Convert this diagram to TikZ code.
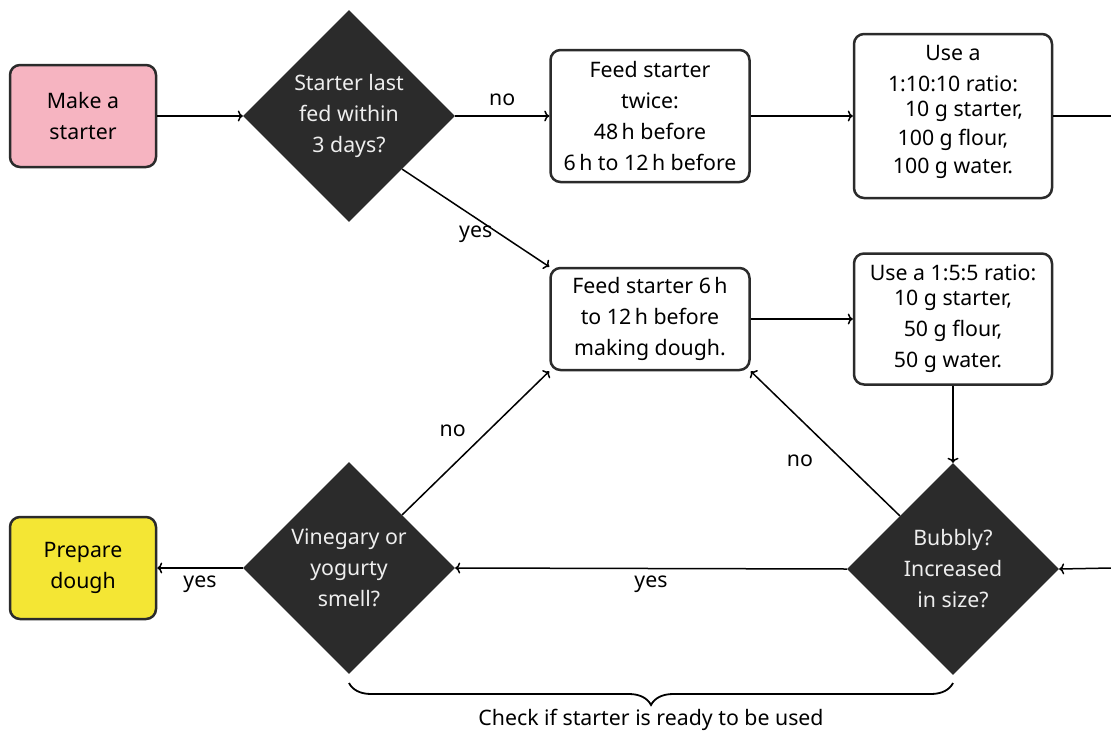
\documentclass[tikz,border=0pt]{standalone}
\usepackage{fontspec}
\setmainfont{Noto Sans}
\usetikzlibrary{shapes.geometric,arrows.meta,decorations.pathreplacing}
\definecolor{dk}{HTML}{2B2B2B}
\definecolor{pinkf}{HTML}{F6B4C1}
\definecolor{yelf}{HTML}{F4E634}
\definecolor{lt}{HTML}{EEEEEE}
\begin{document}
\begin{tikzpicture}[x=1pt,y=-1pt,
  every node/.style={font=\fontsize{21.3}{31}\selectfont},
  box/.style={draw=dk, line width=2.5pt, rounded corners=10pt, align=center, inner sep=0pt, text=black},
  dia/.style={diamond, fill=dk, draw=none, inner sep=0pt, minimum width=212pt, minimum height=212pt, text=lt, align=center},
  conn/.style={line width=1.5pt, draw=black},
  arr/.style={conn, -{To[length=5pt,width=11pt]}},
  lbl/.style={inner sep=0pt, text=black}]
\useasboundingbox (0,0) rectangle (1111,731);

\node[box, fill=pinkf, minimum width=146pt, minimum height=102pt] (mk) at (83,116) {Make a\\starter};
\node[dia] (d1) at (349,116) {Starter last\\fed within\\3 days?};
\node[box, fill=white, minimum width=199pt, minimum height=132pt] (ft) at (650,116) {Feed starter\\twice:\\48\,h before\\6\,h to 12\,h before};
\node[box, fill=white, minimum width=198pt, minimum height=164pt] (u10) at (953,116) {Use a\\1:10:10 ratio:\\[-6pt]\hspace*{22pt}10 g starter,\\[-2pt]100 g flour,\hspace*{20pt}\\[-3pt]100 g water.\hspace*{10pt}\\[-18pt]\mbox{}};
\node[box, fill=white, minimum width=199pt, minimum height=102pt] (f6) at (650,319) {Feed starter 6\,h\\to 12\,h before\\making dough.};
\node[box, fill=white, minimum width=198pt, minimum height=131pt] (u5) at (953,319) {Use a 1:5:5 ratio:\\[-6pt]10 g starter,\\50 g flour,\hspace*{20pt}\\50 g water.\hspace*{10pt}};
\node[dia] (b) at (953,569) {Bubbly?\\Increased\\in size?};
\node[dia] (v) at (349,568) {Vinegary or\\yogurty\\smell?};
\node[box, fill=yelf, minimum width=146pt, minimum height=102pt] (pd) at (83,568) {Prepare\\dough};

\coordinate (r1) at (1111,116);
\coordinate (r2) at (1111,568);
\coordinate (bl) at (349,683);
\coordinate (br) at (953,683);

\draw[arr] (mk) -- (d1);
\draw[arr] (d1) -- node[lbl, pos=0.5, yshift=16pt]{no} (ft);
\draw[arr] (d1.south east) -- node[lbl, pos=0.5, yshift=-16pt]{yes} (f6.north west);
\draw[arr] (ft) -- (u10);
\draw[conn] (u10) -- (r1);
\draw[arr] (f6) -- (u5);
\draw[arr] (u5) -- (b);
\draw[arr] (r2) -- (b.east);
\draw[arr] (b.north west) -- node[lbl, pos=0.67, yshift=-42pt]{no} (f6.south east);
\draw[arr] (b.west) -- node[lbl, pos=0.5, yshift=-16pt]{yes} (v.east);
\draw[arr] (v.north east) -- node[lbl, pos=0.344, yshift=35pt]{no} (f6.south west);
\draw[arr] (v.west) -- node[lbl, pos=0.5, yshift=-16pt]{yes} (pd.east);
\draw[conn, line width=1.8pt, decorate, decoration={brace, mirror, amplitude=22pt}] (bl) -- (br) node[lbl, midway, yshift=-37pt]{Check if starter is ready to be used};
\end{tikzpicture}
\end{document}
